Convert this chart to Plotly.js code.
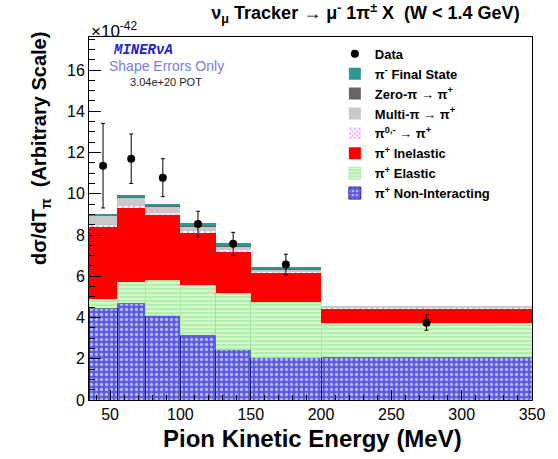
<!DOCTYPE html>
<html>
<head>
<meta charset="utf-8">
<script src="https://cdn.plot.ly/plotly-3.0.1.min.js"></script>
<style>html,body{margin:0;padding:0;background:#fff;}#chart{width:558px;height:459px;}</style>
</head>
<body>
<div id="chart"></div>
<script>
// Bin edges of pion kinetic energy (MeV)
const binEdges = [35, 55, 75, 100, 125, 150, 200, 350];

// Stacked MC components (x10^-42, arbitrary scale), bottom to top
const nonInteracting = [4.45, 4.69, 4.08, 3.14, 2.43, 2.05, 2.07];
const elastic        = [0.44, 1.05, 1.73, 2.46, 2.75, 2.69, 1.65];
const inelastic      = [3.49, 3.56, 3.14, 2.52, 1.98, 1.41, 0.68];
const pi0minus       = [0.10, 0.12, 0.11, 0.09, 0.09, 0.08, 0.04];
const multiPi        = [0.42, 0.35, 0.28, 0.20, 0.19, 0.08, 0.10];
const zeroPi         = [0.04, 0.05, 0.05, 0.05, 0.05, 0.04, 0.02];
const piMinusFS      = [0.09, 0.11, 0.12, 0.12, 0.11, 0.09, 0.02];

// Data points and errors
const dataY   = [11.36, 11.70, 10.78, 8.53, 7.57, 6.57, 3.75];
const dataErr = [2.05, 1.20, 0.92, 0.62, 0.56, 0.50, 0.37];

const centers = binEdges.slice(0, -1).map((e, i) => (e + binEdges[i + 1]) / 2);
const widths  = binEdges.slice(0, -1).map((e, i) => binEdges[i + 1] - e);

function barTrace(name, y, marker) {
  return {type: 'bar', name: name, x: centers, y: y, width: widths, marker: marker, hoverinfo: 'skip'};
}

const traces = [
  barTrace('π<sup>+</sup> Non-Interacting', nonInteracting, {
    color: '#6060e0',
    line: {color: '#202088', width: 1},
    pattern: {shape: '.', bgcolor: '#5a5ade', fgcolor: '#b4b4ff', size: 5, solidity: 0.35, fillmode: 'replace'}
  }),
  barTrace('π<sup>+</sup> Elastic', elastic, {
    color: '#b8f0b0',
    line: {color: '#90d890', width: 0.5},
    pattern: {shape: '-', bgcolor: '#b4eeac', fgcolor: '#e8ffe4', size: 4, solidity: 0.3, fillmode: 'replace'}
  }),
  barTrace('π<sup>+</sup> Inelastic', inelastic, {
    color: '#ff0000', line: {width: 0}
  }),
  barTrace('π<sup>0,-</sup> → π<sup>+</sup>', pi0minus, {
    color: '#f0a0f0', line: {width: 0},
    pattern: {shape: 'x', bgcolor: '#ffffff', fgcolor: '#e060e0', size: 4, solidity: 0.3, fillmode: 'replace'}
  }),
  barTrace('Multi-π → π<sup>+</sup>', multiPi, {
    color: '#c8c8c8', line: {width: 0}
  }),
  barTrace('Zero-π → π<sup>+</sup>', zeroPi, {
    color: '#646464', line: {width: 0}
  }),
  barTrace('π<sup>-</sup> Final State', piMinusFS, {
    color: '#2f9696', line: {width: 0}
  }),
  {
    type: 'scatter', mode: 'markers', name: 'Data', x: centers, y: dataY,
    marker: {color: '#000', size: 8, symbol: 'circle'},
    error_y: {type: 'data', array: dataErr, visible: true, color: '#000', thickness: 1, width: 2},
    hoverinfo: 'skip'
  }
];

const F = 'Liberation Sans, Arial, sans-serif';
const layout = {
  width: 558, height: 459,
  margin: {l: 89, r: 26, t: 37, b: 59},
  paper_bgcolor: '#fff', plot_bgcolor: '#fff',
  barmode: 'stack', bargap: 0,
  showlegend: true,
  title: {
    text: '<b>ν<sub>μ</sub> Tracker → μ<sup>-</sup> 1π<sup>±</sup> X  (W < 1.4 GeV)</b>',
    font: {family: F, size: 18, color: '#000'},
    x: 0.655, xanchor: 'center', y: 0.985, yanchor: 'top'
  },
  xaxis: {
    range: [35, 350], tickmode: 'linear', tick0: 50, dtick: 50,
    ticks: 'inside', ticklen: 10, tickcolor: '#000',
    minor: {ticks: 'inside', ticklen: 5, dtick: 10, tickcolor: '#000', showgrid: false},
    showline: true, linecolor: '#000', linewidth: 1, mirror: true,
    showgrid: false, zeroline: false,
    tickfont: {family: F, size: 16, color: '#000'}
  },
  yaxis: {
    range: [0, 17.6], tickmode: 'linear', tick0: 0, dtick: 2,
    ticks: 'inside', ticklen: 12, tickcolor: '#000',
    minor: {ticks: 'inside', ticklen: 6, dtick: 0.5, tickcolor: '#000', showgrid: false},
    showline: true, linecolor: '#000', linewidth: 1, mirror: true,
    showgrid: false, zeroline: false,
    tickfont: {family: F, size: 16, color: '#000'}
  },
  legend: {
    x: 0.555, y: 0.995, xanchor: 'left', yanchor: 'top',
    traceorder: 'reversed', tracegroupgap: 0,
    bgcolor: 'rgba(255,255,255,0)', borderwidth: 0,
    font: {family: F, size: 13, color: '#000', weight: 'bold'}
  },
  annotations: [
    {text: '<b>Pion Kinetic Energy (MeV)</b>', xref: 'paper', yref: 'paper',
     x: 0.505, y: -0.062, xanchor: 'center', yanchor: 'top', showarrow: false,
     font: {family: F, size: 24, color: '#000'}},
    {text: '<b>dσ/dT<sub>π</sub>  (Arbitrary Scale)</b>', xref: 'paper', yref: 'paper',
     x: -0.108, y: 0.692, xanchor: 'center', yanchor: 'middle', textangle: -90, showarrow: false,
     font: {family: F, size: 20, color: '#000'}},
    {text: '×10<sup>-42</sup>', xref: 'paper', yref: 'paper',
     x: 0, y: 1.019, xanchor: 'left', yanchor: 'middle', showarrow: false,
     font: {family: F, size: 17, color: '#000'}},
    {text: '<b><i>MINER</i></b><b><i>νA</i></b>', xref: 'paper', yref: 'paper',
     x: 0.05, y: 0.963, xanchor: 'left', yanchor: 'middle', showarrow: false,
     font: {family: 'Liberation Mono, Courier New, monospace', size: 14, color: '#2323cc'}},
    {text: 'Shape Errors Only', xref: 'paper', yref: 'paper',
     x: 0.04, y: 0.92, xanchor: 'left', yanchor: 'middle', showarrow: false,
     font: {family: F, size: 14, color: '#7c7ce0'}},
    {text: '3.04e+20 POT', xref: 'paper', yref: 'paper',
     x: 0.088, y: 0.876, xanchor: 'left', yanchor: 'middle', showarrow: false,
     font: {family: F, size: 11, color: '#222'}}
  ]
};

Plotly.newPlot('chart', traces, layout, {staticPlot: true, displayModeBar: false});
</script>
</body>
</html>
